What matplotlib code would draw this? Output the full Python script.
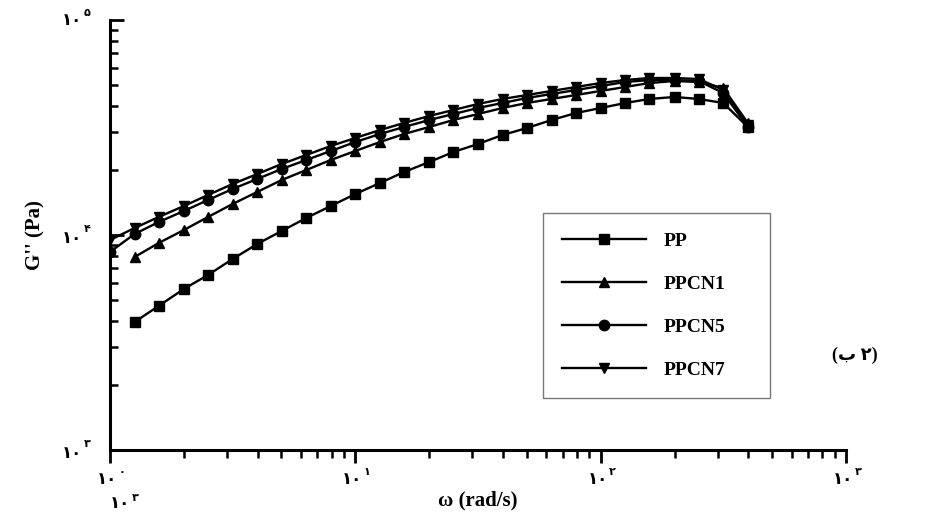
import matplotlib
matplotlib.use("Agg")
from matplotlib import pyplot as plt

# 頻率 (rad/s)
omega = [1.0, 1.26, 1.58, 2.0, 2.51, 3.16, 3.98, 5.01, 6.31, 7.94,
         10.0, 12.6, 15.8, 20.0, 25.1, 31.6, 39.8, 50.1, 63.1, 79.4,
         100.0, 126, 158, 200, 251, 316, 398]

# 損耗模量 G'' (Pa)
g_pp = [3940, 4680, 5610, 6520, 7730, 9080, 10440, 12000, 13640, 15510,
        17460, 19630, 21850, 24320, 26500, 29180, 31460, 34270, 36930, 38960,
        41120, 42920, 43850, 42920, 41120, 31790]
g_ppcn1 = [7900, 9180, 10550, 12130, 13940, 15850, 18020, 20060, 22330, 24590,
           27070, 29500, 31790, 34270, 36530, 38960, 41120, 42920, 44800, 46760,
           48800, 50930, 52030, 51480, 48280, 33190]
g_ppcn5 = [8340, 10110, 11490, 12930, 14550, 16370, 18220, 20280, 22330, 24590,
           27070, 29500, 31790, 34270, 36530, 38960, 41120, 43380, 45270, 47260,
           49320, 51480, 52590, 52590, 52030, 45750, 31790]
g_ppcn7 = [9480, 10780, 12130, 13640, 15350, 17270, 19210, 21390, 23560, 25940,
           28270, 30780, 33190, 35770, 38140, 40680, 42920, 44800, 46760, 48800,
           50930, 52590, 53730, 53730, 53160, 47260, 32480]

names = ["PP", "PPCN1", "PPCN5", "PPCN7"]
marks = ["s", "^", "o", "v"]

latin = ["Liberation Serif", "DejaVu Sans"]
farsi = ["DejaVu Sans"]

fig = plt.figure(figsize=(9.52, 5.16), dpi=100)
ax = fig.add_axes([110 / 952, 66 / 516, 736 / 952, 430 / 516])

series = [(omega[1:], g_pp), (omega[1:], g_ppcn1), (omega, g_ppcn5), (omega, g_ppcn7)]
for (xs, ys), name, m in zip(series, names, marks):
    ax.plot(xs, ys, color="black", lw=1.7, marker=m, ms=7.5,
            markerfacecolor="black", markeredgecolor="black", label=name)

ax.set_xscale("log")
ax.set_yscale("log")
ax.set_xlim(1, 1000)
ax.set_ylim(1000, 100000)

for s in ["top", "right"]:
    ax.spines[s].set_visible(False)
for s in ["left", "bottom"]:
    ax.spines[s].set_linewidth(2.2)

ax.tick_params(axis="y", which="major", direction="in", length=10, width=2)
ax.tick_params(axis="y", which="minor", direction="in", length=6, width=1.8)
ax.tick_params(axis="x", which="major", direction="out", length=9, width=2)
ax.tick_params(axis="x", which="minor", direction="out", length=6, width=1.8)
ax.tick_params(labelbottom=False, labelleft=False)

# 波斯數字刻度
digits = "۰۱۲۳۴۵"
for p in [0, 1, 2, 3]:
    ax.annotate("۱۰", xy=(10 ** p, 0), xycoords=("data", "axes fraction"),
                xytext=(5, -21), textcoords="offset points", ha="right", va="center",
                fontsize=12, fontweight="bold", family=farsi)
    ax.annotate(digits[p], xy=(10 ** p, 0), xycoords=("data", "axes fraction"),
                xytext=(6, -16), textcoords="offset points", ha="left", va="center",
                fontsize=8, fontweight="bold", family=farsi)
for p in [3, 4, 5]:
    ax.annotate("۱۰", xy=(0, 10 ** p), xycoords=("axes fraction", "data"),
                xytext=(-20, -2 if p < 5 else 0), textcoords="offset points", ha="right", va="center",
                fontsize=12, fontweight="bold", family=farsi)
    ax.annotate(digits[p], xy=(0, 10 ** p), xycoords=("axes fraction", "data"),
                xytext=(-19, 4 if p < 5 else 5), textcoords="offset points", ha="left", va="center",
                fontsize=8, fontweight="bold", family=farsi)

fig.text(130 / 952, 1 - 503 / 516, "۱۰", ha="right", va="center",
         fontsize=12, fontweight="bold", family=farsi)
fig.text(132 / 952, 1 - 498 / 516, "۳", ha="left", va="center",
         fontsize=8, fontweight="bold", family=farsi)

ax.set_xlabel("ω (rad/s)", fontsize=15, fontweight="bold", family=latin, labelpad=20)
fig.text(35 / 952, 1 - 235 / 516, "G'' (Pa)", rotation=90, ha="center", va="center",
         fontsize=15, fontweight="bold", family=latin)

fig.text(855 / 952, 1 - 355 / 516, "(ب ۲)", ha="center", va="center",
         fontsize=13, fontweight="bold", family=latin)

leg = ax.legend(loc="upper left", bbox_to_anchor=(543 / 952, 1 - 393 / 516, 227 / 952, 180 / 516),
                bbox_transform=fig.transFigure, mode="expand", frameon=True, fancybox=False,
                handlelength=4.3, labelspacing=1.3, borderpad=1.0, handletextpad=0.9,
                borderaxespad=0, prop={"family": latin, "weight": "bold", "size": 14})
leg.get_frame().set_edgecolor("#555555")
leg.get_frame().set_linewidth(1.0)

plt.savefig("out.png", dpi=100)
